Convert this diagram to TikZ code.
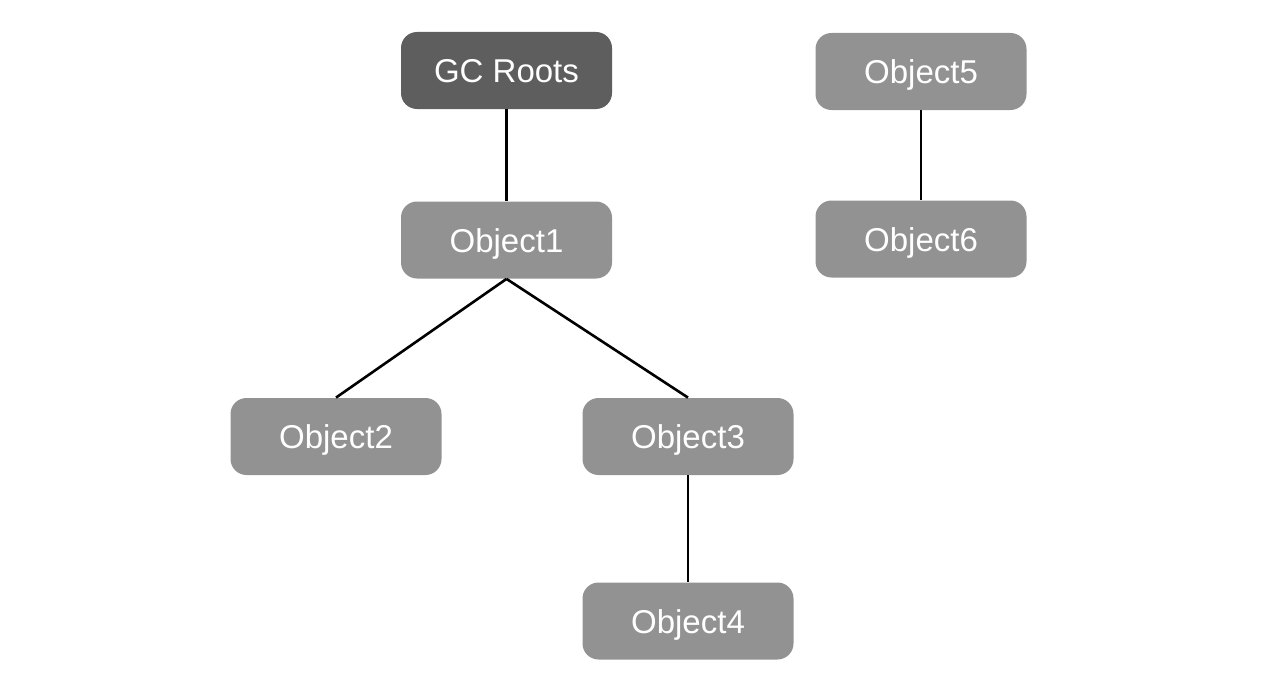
\documentclass[tikz,border=0pt]{standalone}
\usepackage{fontspec}
\setmainfont{Liberation Sans}
\definecolor{rootgray}{HTML}{5E5E5E}
\definecolor{objgray}{HTML}{929292}
\tikzset{
  objbox/.style={fill=objgray, rounded corners=8pt, minimum width=105.5pt, minimum height=38.5pt, text=white, font=\fontsize{16.5}{19}\selectfont, inner sep=0pt, text height=12pt, text depth=-0.8pt},
  rootbox/.style={objbox, fill=rootgray},
  link/.style={line width=1.3pt, draw=black}
}
\begin{document}
\begin{tikzpicture}[x=0.5pt, y=-0.5pt]
\useasboundingbox (0,0) rectangle (1288,690);

\node[rootbox] (gcroots) at (506.5,70.5) {GC Roots};
\node[objbox] (obj1) at (506.5,240) {Object1};
\node[objbox] (obj2) at (336,436.5) {Object2};
\node[objbox] (obj3) at (688,436.5) {Object3};
\node[objbox] (obj4) at (688,621) {Object4};

\node[objbox] (obj5) at (921,71.5) {Object5};
\node[objbox] (obj6) at (921,239) {Object6};

\draw[link] (gcroots.south) -- (obj1.north);
\draw[link] (obj1.south) -- (obj2.north);
\draw[link] (obj1.south) -- (obj3.north);
\draw[link] (obj3.south) -- (obj4.north);
\draw[link] (obj5.south) -- (obj6.north);
\end{tikzpicture}
\end{document}
